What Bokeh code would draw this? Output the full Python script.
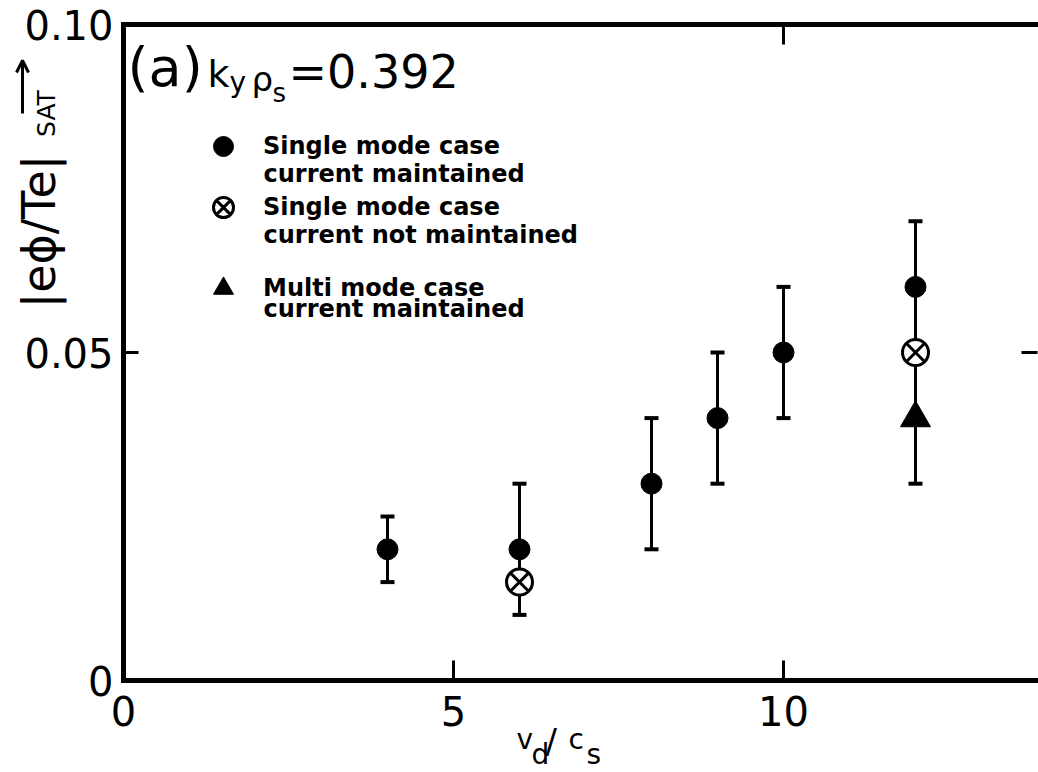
import math
from bokeh.plotting import figure
from bokeh.models import (ColumnDataSource, Whisker, TeeHead, FixedTicker, LinearAxis,
                          Label, Legend, LegendItem, Arrow, OpenHead)
from bokeh.embed import file_html
from bokeh.resources import INLINE

# ---- data ----
vd_single = [4, 6, 8, 9, 10, 12]
phi_single = [0.020, 0.020, 0.030, 0.040, 0.050, 0.060]
lo_single = [0.015, 0.010, 0.020, 0.030, 0.040, 0.050]
hi_single = [0.025, 0.030, 0.040, 0.050, 0.060, 0.070]

vd_notmaint = [6, 12]
phi_notmaint = [0.015, 0.050]

vd_multi = [12]
phi_multi = [0.040]
lo_multi = [0.030]
hi_multi = [0.050]

x_ticks = [0, 5, 10]
y_ticks = [0, 0.05, 0.1]
y_tick_labels = {0: "0", 0.05: "0.05", 0.1: "0.10"}

FONT = "DejaVu Sans"
W, H = 1038, 772
# the plot frame covers the whole canvas; axes are pinned at fixed locations
X0_PX, X_PER = 123, 66.0        # pixel of x=0, pixels per unit
Y0_PX, Y_PER = 680, 6560.0      # pixel of y=0, pixels per unit
x_lo, x_hi = -X0_PX / X_PER, (W - X0_PX) / X_PER
y_lo, y_hi = -(H - Y0_PX) / Y_PER, Y0_PX / Y_PER

p = figure(width=W, height=H, x_range=(x_lo, x_hi), y_range=(y_lo, y_hi),
           output_backend="svg", toolbar_location=None,
           min_border_left=0, min_border_right=0, min_border_top=0, min_border_bottom=0,
           x_axis_location=None, y_axis_location=None)
p.outline_line_color = None
p.grid.visible = False
p.background_fill_color = "white"
p.border_fill_color = "white"


def style_axis(ax, ticks, tick_in, show_labels=True, line=True):
    ax.ticker = FixedTicker(ticks=ticks)
    ax.major_tick_in = tick_in
    ax.major_tick_out = 0
    ax.minor_tick_line_color = None
    ax.major_tick_line_width = 3
    ax.major_tick_line_color = "black"
    ax.axis_line_width = 5 if line else 0
    ax.axis_line_color = "black" if line else None
    ax.axis_line_cap = "square"
    ax.major_label_text_font = FONT
    ax.major_label_text_color = "black"
    ax.major_label_text_font_size = "40px"
    if not show_labels:
        ax.major_label_overrides = {t: "" for t in ticks}


xax = LinearAxis(fixed_location=0, bounds=(0, x_hi))
style_axis(xax, x_ticks, 20)
xax.major_label_standoff = 15
p.add_layout(xax, "below")

yax = LinearAxis(fixed_location=0, bounds=(0, 0.1))
style_axis(yax, y_ticks, 15)
yax.major_label_overrides = y_tick_labels
yax.major_label_standoff = 10
p.add_layout(yax, "left")

tax = LinearAxis(fixed_location=0.1, bounds=(0, x_hi))
style_axis(tax, [10], 20, show_labels=False)
p.add_layout(tax, "above")

rax = LinearAxis(fixed_location=x_hi - 0.01, bounds=(0, 0.1))
style_axis(rax, [0.05], 16, show_labels=False, line=False)
p.add_layout(rax, "right")

# ---- error bars ----
src_single = ColumnDataSource(dict(x=vd_single, y=phi_single, lo=lo_single, hi=hi_single))
src_multi = ColumnDataSource(dict(x=vd_multi, y=phi_multi, lo=lo_multi, hi=hi_multi))
src_nm = ColumnDataSource(dict(x=vd_notmaint, y=phi_notmaint))

for src in (src_single, src_multi):
    w = Whisker(base="x", lower="lo", upper="hi", source=src, level="underlay",
                line_width=3, line_color="black",
                upper_head=TeeHead(size=14, line_width=4, line_color="black"),
                lower_head=TeeHead(size=14, line_width=4, line_color="black"))
    p.add_layout(w)

r_single = p.scatter("x", "y", source=src_single, marker="circle", size=21,
                     fill_color="black", line_color="black")
r_nm = p.scatter("x", "y", source=src_nm, marker="circle_x", size=26,
                 fill_color="white", line_color="black", line_width=3)
r_multi = p.scatter("x", "y", source=src_multi, marker="triangle", size=30,
                    fill_color="black", line_color="black")

K = 0.38  # Bokeh draws an "alphabetic" label about K*size lower than asked


def lab(cx, base, text, size, style="normal"):
    """Place text so its baseline sits at canvas row `base`."""
    p.add_layout(Label(x=cx, y=H - (base - K * size), x_units="screen", y_units="screen",
                       text=text, text_font=FONT, text_font_size=f"{size}px",
                       text_font_style=style,
                       text_color="black", text_baseline="alphabetic",
                       text_align="left"))


def vlab(cx, cy, text, size):
    """Vertical (bottom-to-top) text centred on canvas point (cx, cy)."""
    p.add_layout(Label(x=cx, y=H - cy, x_units="screen", y_units="screen",
                       text=text, text_font=FONT, text_font_size=f"{size}px",
                       text_color="black", text_baseline="middle",
                       text_align="center", angle=math.pi / 2))


# ---- legend: one block per entry so the uneven spacing can be matched ----
legend_rows = [
    (r_single, "Single mode case", "current maintained", 146, 183),
    (r_nm, "Single mode case", "current not maintained", 207, 244),
    (r_multi, "Multi mode case", "current maintained", 288, 318),
]
for rend, line1, line2, cy, base2 in legend_rows:
    lg = Legend(items=[LegendItem(label=line1, renderers=[rend])],
                location=(198, H - (cy + 25)), glyph_width=50, glyph_height=50,
                label_standoff=15, padding=0, margin=0, border_line_color=None,
                background_fill_alpha=0, label_text_font=FONT,
                label_text_font_style="bold",
                label_text_font_size="24px", label_text_color="black",
                label_height=25)
    p.add_layout(lg)
    lab(263, base2, line2, 24, style="bold")

# panel title: (a)  k_y rho_s = 0.392
lab(127, 88, "(a)", 54)
lab(207, 88, "k", 38)
lab(229, 93, "y", 28)
lab(251, 91, "ρ", 34)
lab(272, 102, "s", 26)
lab(288, 89, "=0.392", 46)

# x axis label: v_d / c_s
lab(516, 750, "v", 28)
lab(531, 765, "d", 28)
lab(545, 753, "/", 34)
lab(568, 750, "c", 28)
lab(586, 765, "s", 28)

# y axis label: |e phi / Te| SAT with arrow
vlab(38, 231, "|eϕ/Te|", 46)
vlab(46, 113, "SAT", 25)
p.add_layout(Arrow(x_start=22, y_start=H - 113, x_end=22, y_end=H - 60,
                   start_units="screen", end_units="screen", line_width=3,
                   line_color="black",
                   end=OpenHead(size=12, line_width=3, line_color="black")))

open("out.html", "w").write(file_html(p, INLINE))
